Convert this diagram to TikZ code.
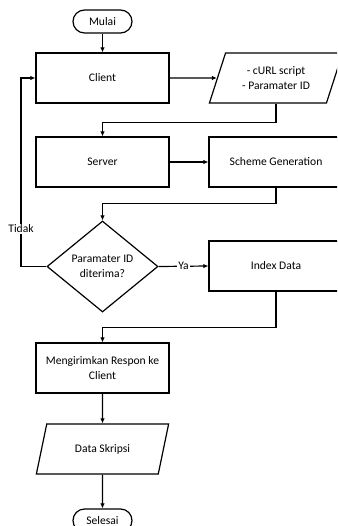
\documentclass[tikz,border=0pt]{standalone}
\usepackage{fontspec}
\setmainfont{Carlito}
\usetikzlibrary{shapes.geometric,arrows.meta}
\begin{document}
\begin{tikzpicture}[x=1pt,y=-1pt,
  every node/.style={font=\fontsize{11.6}{15}\selectfont, text=black},
  box/.style={draw, line width=1.2pt, minimum width=133pt, minimum height=50pt, align=center, inner sep=2pt},
  term/.style={draw, line width=1.2pt, rounded corners=11.5pt, minimum width=59pt, minimum height=23pt, inner sep=1pt},
  para/.style={draw, line width=1.2pt, trapezium, trapezium left angle=66, trapezium right angle=114, trapezium stretches=true, minimum width=134pt, minimum height=50pt, align=center, inner sep=1pt},
  dec/.style={draw, line width=1.2pt, diamond, aspect=1.22, minimum width=111pt, minimum height=91pt, align=center, inner sep=0pt},
  conn/.style={line width=1.2pt, -{Latex[length=5pt,width=4.5pt]}},
  lbl/.style={fill=white, inner sep=1pt}
]
\useasboundingbox (0,0) rectangle (337,526);
\clip (0,0) rectangle (337,526);
\node[term] (mulai) at (102.5,21.5) {Mulai};
\node[box] (client) at (102.5,78) {Client};
\node[para] (curl) at (276,78) {- cURL script\\- Paramater ID};
\node[box] (server) at (102.5,162) {Server};
\node[box, minimum width=134pt] (scheme) at (276,162) {Scheme Generation};
\node[dec] (cek) at (102.5,266.5) {Paramater ID\\diterima?};
\node[box, minimum width=134pt] (index) at (276,266) {Index Data};
\node[box] (resp) at (102.5,368) {Mengirimkan Respon ke\\Client};
\node[para, minimum width=133pt] (data) at (102.5,449) {Data Skripsi};
\node[term] (selesai) at (102.5,520.5) {Selesai};
\coordinate (lp) at (21,0);

\draw[conn] (mulai.south) -- (client.north);
\draw[conn] (client.east) -- (curl.west);
\draw[conn] (curl.south) -- ++(0,19) -| (server.north);
\draw[conn] (server.east) -- (scheme.west);
\draw[conn] (scheme.south) -- ++(0,16) -| (cek.north);
\draw[conn] (cek.east) -- node[lbl, pos=0.5] {Ya} (index.west);
\draw[conn] (cek.west) -- (cek.west -| lp) -- node[lbl, pos=0.2] {Tidak} (lp |- client.west) -- (client.west);
\draw[conn] (index.south) -- ++(0,36) -| (resp.north);
\draw[conn] (resp.south) -- (data.north);
\draw[conn] (data.south) -- (selesai.north);
\end{tikzpicture}
\end{document}
